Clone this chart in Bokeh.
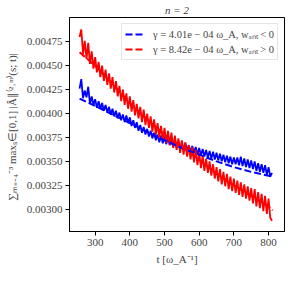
from bokeh.plotting import figure
from bokeh.models import Range1d, FixedTicker, PrintfTickFormatter, Legend, LegendItem
from bokeh.embed import file_html
from bokeh.resources import INLINE

# ---- data ----
t = [255, 260, 265, 270, 275, 280, 285, 290, 295, 300, 305, 310, 315, 320, 325, 330, 335, 340,
     345, 350, 355, 360, 365, 370, 375, 380, 385, 390, 395, 400, 405, 410, 415, 420, 425, 430,
     435, 440, 445, 450, 455, 460, 465, 470, 475, 480, 485, 490, 495, 500, 505, 510, 515, 520,
     525, 530, 535, 540, 545, 550, 555, 560, 565, 570, 575, 580, 585, 590, 595, 600, 605, 610,
     615, 620, 625, 630, 635, 640, 645, 650, 655, 660, 665, 670, 675, 680, 685, 690, 695, 700,
     705, 710, 715, 720, 725, 730, 735, 740, 745, 750, 755, 760, 765, 770, 775, 780, 785, 790,
     795, 800, 805, 810]

red_amp = [0.00480, 0.00488, 0.00462, 0.00476, 0.00457, 0.00474, 0.00452, 0.00465, 0.00447, 0.00459,
           0.00443, 0.00454, 0.00438, 0.00450, 0.00434, 0.00446, 0.00430, 0.00442, 0.00426, 0.00438,
           0.00422, 0.00434, 0.00418, 0.00429, 0.00413, 0.00425, 0.00409, 0.00421, 0.00405, 0.00418,
           0.00402, 0.00414, 0.00398, 0.00410, 0.00395, 0.00407, 0.00391, 0.00404, 0.00388, 0.00400,
           0.00385, 0.00397, 0.00381, 0.00394, 0.00378, 0.00390, 0.00375, 0.00387, 0.00372, 0.00385,
           0.00369, 0.00382, 0.00367, 0.00380, 0.00364, 0.00377, 0.00362, 0.00374, 0.00359, 0.00372,
           0.00357, 0.00370, 0.00355, 0.00367, 0.00352, 0.00365, 0.00349, 0.00362, 0.00346, 0.00359,
           0.00343, 0.00356, 0.00340, 0.00353, 0.00338, 0.00350, 0.00335, 0.00347, 0.00332, 0.00344,
           0.00329, 0.00342, 0.00326, 0.00339, 0.00324, 0.00337, 0.00321, 0.00334, 0.00319, 0.00332,
           0.00317, 0.00330, 0.00315, 0.00328, 0.00313, 0.00326, 0.00311, 0.00324, 0.00309, 0.00322,
           0.00306, 0.00321, 0.00303, 0.00318, 0.00301, 0.00316, 0.00298, 0.00314, 0.00295, 0.00311,
           0.00291, 0.00288]

blue_amp = [0.00426, 0.00436, 0.00416, 0.00424, 0.00417, 0.00428, 0.00410, 0.00418, 0.00409, 0.00415,
            0.00406, 0.00413, 0.00405, 0.00411, 0.00403, 0.00409, 0.00401, 0.00407, 0.00399, 0.00405,
            0.00397, 0.00403, 0.00395, 0.00401, 0.00393, 0.00399, 0.00391, 0.00398, 0.00390, 0.00396,
            0.00387, 0.00393, 0.00385, 0.00391, 0.00382, 0.00388, 0.00380, 0.00386, 0.00378, 0.00384,
            0.00376, 0.00382, 0.00374, 0.00380, 0.00372, 0.00378, 0.00370, 0.00377, 0.00369, 0.00376,
            0.00368, 0.00375, 0.00367, 0.00373, 0.00365, 0.00372, 0.00364, 0.00371, 0.00363, 0.00370,
            0.00362, 0.00369, 0.00361, 0.00367, 0.00360, 0.00366, 0.00359, 0.00365, 0.00357, 0.00364,
            0.00356, 0.00363, 0.00355, 0.00362, 0.00354, 0.00361, 0.00353, 0.00360, 0.00352, 0.00359,
            0.00351, 0.00358, 0.00350, 0.00357, 0.00349, 0.00356, 0.00348, 0.00355, 0.00347, 0.00354,
            0.00347, 0.00354, 0.00346, 0.00355, 0.00345, 0.00353, 0.00344, 0.00352, 0.00343, 0.00351,
            0.00342, 0.00350, 0.00340, 0.00348, 0.00339, 0.00347, 0.00338, 0.00346, 0.00336, 0.00344,
            0.00334, 0.00338]

t_fit = [255, 300, 350, 400, 450, 500, 550, 600, 650, 700, 750, 800, 812]
blue_fit = [0.004156, 0.00408, 0.00399, 0.00390, 0.00381, 0.00372, 0.00364, 0.00357, 0.00350,
            0.00344, 0.00339, 0.00335, 0.00334]
red_fit = [0.00464, 0.00450, 0.00431, 0.00411, 0.00394, 0.00378, 0.00365, 0.00352, 0.00337,
           0.00325, 0.00314, 0.00303, 0.00299]

labels = ["γ = 4.01e − 04 ω_A, wₐₙₜ < 0", "γ = 8.42e − 04 ω_A, wₐₙₜ > 0"]
x_ticks = [300, 400, 500, 600, 700, 800]
y_ticks = [0.00300, 0.00325, 0.00350, 0.00375, 0.00400, 0.00425, 0.00450, 0.00475]

FONT = "Liberation Serif"

p = figure(frame_width=215, frame_height=214, output_backend="svg", toolbar_location=None,
           x_range=Range1d(226, 846), y_range=Range1d(0.002767, 0.005004),
           min_border_left=69, min_border_right=1, min_border_top=17, min_border_bottom=38)
p.background_fill_color = "white"
p.border_fill_color = "white"
p.outline_line_color = "black"
p.outline_line_width = 1
p.grid.visible = False

p.title.text = "n = 2"
p.title.align = "center"
p.title.text_font = FONT
p.title.text_font_size = "11px"
p.title.text_font_style = "italic"
p.title.standoff = 3

for ax in (p.xaxis[0], p.yaxis[0]):
    ax.major_label_text_font = FONT
    ax.major_label_text_font_size = "11px"
    ax.axis_label_text_font = FONT
    ax.axis_label_text_font_size = "11px"
    ax.axis_label_text_font_style = "normal"
    ax.minor_tick_line_color = None
    ax.major_tick_out = 4
    ax.major_tick_in = 0
    ax.axis_line_color = "black"
    ax.major_tick_line_color = "black"
    ax.major_label_standoff = 3

p.xaxis.ticker = FixedTicker(ticks=x_ticks)
p.yaxis.ticker = FixedTicker(ticks=y_ticks)
p.yaxis.formatter = PrintfTickFormatter(format="%.5f")
p.xaxis.axis_label = "t [ω_A⁻¹]"
p.yaxis.axis_label = "∑ₘ₌₋₄⁻³  maxₛ∈[0,1] |Â∥⁽²˒ᵐ⁾(s; t)|"
p.xaxis.axis_label_standoff = 4
p.yaxis.axis_label_standoff = 6

p.line(t, blue_amp, line_color="#0000ff", line_width=1.8)
p.line(t, red_amp, line_color="#ff0000", line_width=1.8)
bf = p.line(t_fit, blue_fit, line_color="#0000ff", line_width=2, line_dash="7 3")
rf = p.line(t_fit, red_fit, line_color="#ff0000", line_width=2, line_dash="7 3")

legend = Legend(items=[LegendItem(label=labels[0], renderers=[bf]),
                       LegendItem(label=labels[1], renderers=[rf])],
                location="top_right")
legend.label_text_font = FONT
legend.label_text_font_size = "10.5px"
legend.glyph_width = 20
legend.glyph_height = 12
legend.label_height = 12
legend.label_standoff = 8
legend.spacing = 1
legend.padding = 3
legend.margin = 6
legend.border_line_color = "#cccccc"
legend.border_line_width = 1
legend.background_fill_alpha = 0.8
p.add_layout(legend)

open("out.html", "w").write(file_html(p, INLINE))
